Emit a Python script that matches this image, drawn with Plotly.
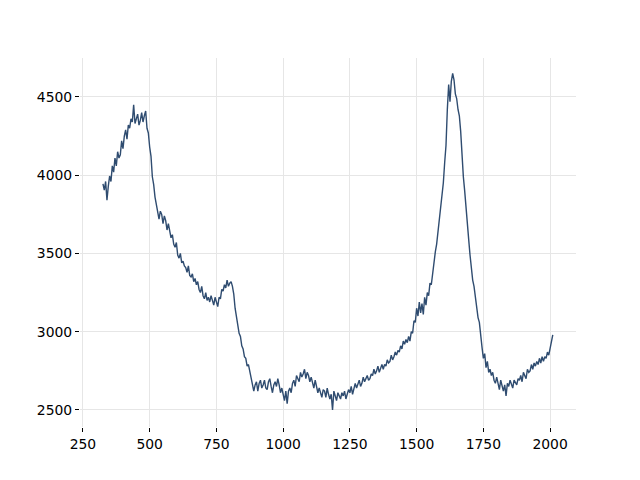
import numpy as np
import plotly.graph_objects as go

# sampling grid of the spectrum (wavenumber-like axis)
x_start, x_step = 325, 5

y_values = [
    3945, 3905, 3960, 3840, 3930, 3995, 3960, 4060, 4020, 4110,
    4060, 4150, 4110, 4130, 4220, 4170, 4250, 4290, 4230, 4320,
    4300, 4360, 4340, 4450, 4330, 4360, 4390, 4320, 4350, 4400,
    4340, 4380, 4410, 4300, 4270, 4180, 4120, 3990, 3940, 3860,
    3810, 3760, 3720, 3770, 3750, 3690, 3740, 3710, 3650, 3690,
    3640, 3600, 3620, 3560, 3540, 3570, 3490, 3470, 3500, 3440,
    3450, 3420, 3410, 3380, 3420, 3360, 3350, 3370, 3320, 3340,
    3300, 3320, 3270, 3250, 3290, 3230, 3210, 3250, 3200, 3220,
    3190, 3230, 3200, 3170, 3220, 3180, 3160, 3220, 3210, 3270,
    3260, 3300, 3280, 3330, 3290, 3310, 3320, 3290, 3240, 3150,
    3090, 3060, 2990, 2970, 2910, 2890, 2840, 2830, 2780, 2790,
    2750, 2710, 2680, 2620, 2660, 2680, 2620, 2670, 2690, 2640,
    2660, 2690, 2640, 2630, 2680, 2700, 2650, 2610, 2660, 2680,
    2650, 2700, 2660, 2610, 2640, 2590, 2560, 2620, 2540, 2620,
    2640, 2610, 2670, 2690, 2650, 2720, 2700, 2680, 2740, 2710,
    2730, 2760, 2700, 2740, 2720, 2680, 2710, 2670, 2640, 2690,
    2650, 2610, 2640, 2600, 2580, 2630, 2620, 2580, 2640, 2600,
    2570, 2600, 2500, 2620, 2580, 2560, 2610, 2590, 2570, 2610,
    2590, 2620, 2570, 2600, 2630, 2610, 2650, 2600, 2640, 2670,
    2640, 2660, 2690, 2650, 2670, 2710, 2680, 2700, 2720, 2690,
    2700, 2730, 2720, 2760, 2730, 2750, 2780, 2740, 2770, 2790,
    2760, 2790, 2780, 2820, 2800, 2810, 2850, 2820, 2840, 2870,
    2850, 2880, 2870, 2910, 2890, 2940, 2920, 2950, 2930, 2970,
    2940, 3000, 2990, 3070, 3060, 3150, 3100, 3190, 3120, 3180,
    3110, 3220, 3170, 3250, 3230, 3310, 3300, 3380, 3430, 3510,
    3560, 3640, 3740, 3790, 3890, 3950, 4080, 4190, 4420, 4580,
    4470, 4600, 4650, 4610, 4520, 4490, 4420, 4380, 4280, 4110,
    3990, 3900, 3810, 3690, 3590, 3490, 3400, 3330, 3290, 3220,
    3180, 3090, 3060, 2950, 2900, 2830, 2860, 2770, 2810, 2740,
    2760, 2720, 2740, 2690, 2670, 2710, 2660, 2630, 2690, 2650,
    2620, 2660, 2590, 2670, 2650, 2690, 2660, 2640, 2690, 2670,
    2660, 2700, 2690, 2720, 2680, 2740, 2720, 2700, 2760, 2740,
    2750, 2790, 2760, 2800, 2780, 2810, 2790, 2830, 2800, 2840,
    2810, 2840, 2830, 2870, 2850, 2900, 2930, 2980,
]

x_values = x_start + x_step * np.arange(len(y_values))

x_ticks = [250, 500, 750, 1000, 1250, 1500, 1750, 2000]
y_ticks = [2500, 3000, 3500, 4000, 4500]

fig = go.Figure()
fig.add_trace(go.Scatter(
    x=x_values, y=y_values, mode="lines",
    line=dict(color="#2f4c70", width=1.4),
    showlegend=False, hoverinfo="skip",
))

axis_common = dict(
    showgrid=True, gridcolor="#e6e6e6", gridwidth=1,
    zeroline=False, showline=False,
    ticks="outside", ticklen=4, tickwidth=1, tickcolor="#000000",
    tickfont=dict(family="DejaVu Sans", size=13.9, color="#000000"),
)

fig.update_layout(
    width=640, height=480,
    margin=dict(l=72, r=72, t=50, b=61),
    paper_bgcolor="white", plot_bgcolor="white",
    xaxis=dict(range=[239, 2097], tickvals=x_ticks, **axis_common),
    yaxis=dict(range=[2391, 4749], tickvals=y_ticks, **axis_common),
)

fig.write_html("out.html")
